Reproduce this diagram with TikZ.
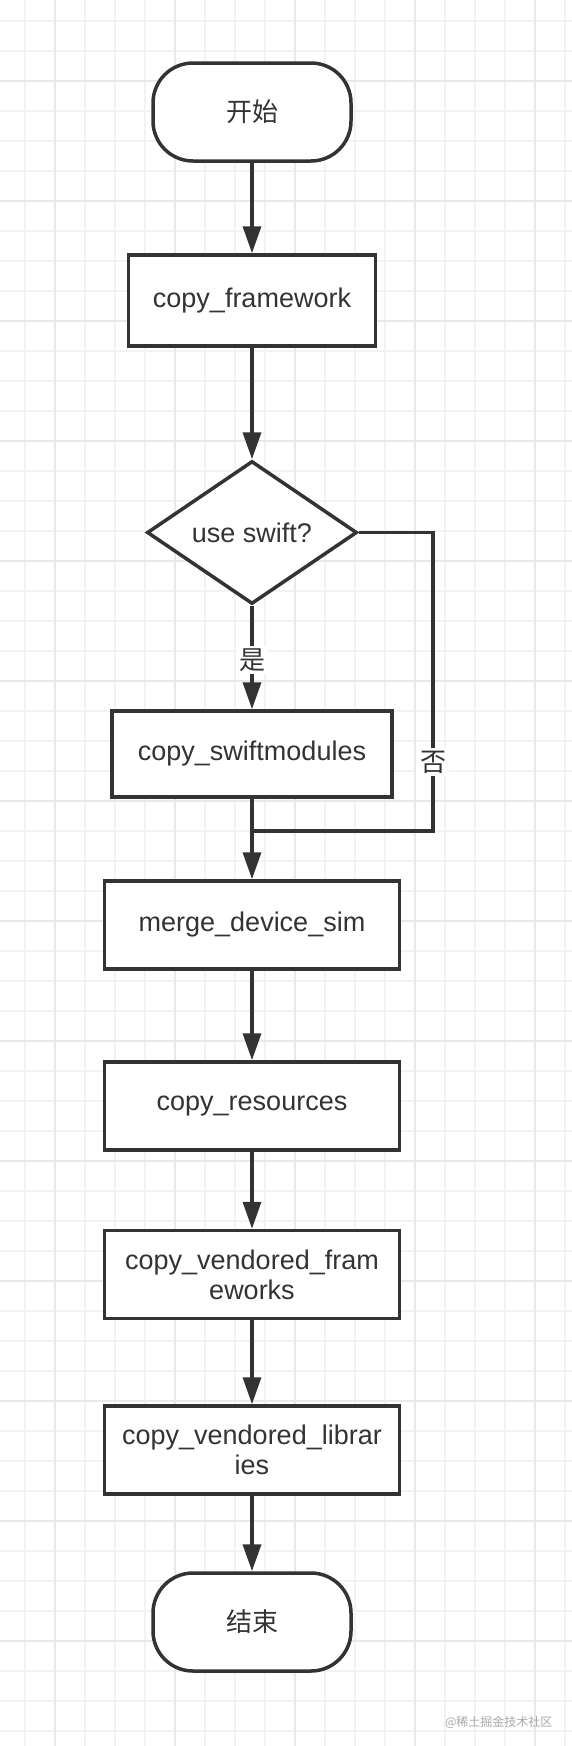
\documentclass[tikz,border=0pt]{standalone}
\usepackage{fontspec}
\setmainfont{Liberation Sans}
\newfontfamily\cjk{Noto Sans CJK SC}
\usepackage{xcolor}
\definecolor{ink}{HTML}{333333}
\definecolor{gridminor}{HTML}{F3F3F3}
\definecolor{gridmajor}{HTML}{E9E9E9}
\definecolor{marktext}{HTML}{A8A8A8}
\usepackage{tikz}
\usetikzlibrary{arrows.meta, shapes.geometric}
\tikzset{
    stepbox/.style = {rectangle, draw=ink, line width=3.5pt, fill=white, text=ink,
                      minimum width=295pt, minimum height=88pt, inner sep=0pt,
                      align=center, font=\fontsize{27}{30}\selectfont},
    terminal/.style = {stepbox, rounded corners=40pt, minimum width=198pt,
                       minimum height=98pt, font=\cjk\fontsize{26}{30}\selectfont},
    decision/.style = {diamond, draw=ink, line width=3.5pt, fill=white, text=ink,
                       minimum width=210pt, minimum height=143pt, aspect=1.47,
                       inner sep=0pt, font=\fontsize{27}{30}\selectfont},
    flow/.style = {-{Triangle[length=27pt, width=18pt]}, line width=3.5pt, draw=ink},
    link/.style = {line width=3.5pt, draw=ink},
    branch/.style = {fill=white, text=ink, inner sep=3pt,
                     font=\cjk\fontsize{26}{30}\selectfont},
}

\begin{document}
\begin{tikzpicture}[x=1pt, y=-1pt]
        \useasboundingbox (0,0) rectangle (572,1746);
        \fill[white] (0,0) rectangle (572,1746);
        % grid
        \foreach \gx in {25,55,...,565} \draw[gridminor, line width=1.2pt] (\gx,0) -- (\gx,1746);
        \foreach \gy in {21,51,...,1731} \draw[gridminor, line width=1.2pt] (0,\gy) -- (572,\gy);
        \foreach \gx in {55,175,...,535} \draw[gridmajor, line width=1.2pt] (\gx,0) -- (\gx,1746);
        \foreach \gy in {81,201,...,1641} \draw[gridmajor, line width=1.2pt] (0,\gy) -- (572,\gy);
        % steps
        \node[terminal] (start) at (252,112) {开始};
        \node[stepbox, minimum width=247pt, minimum height=91pt] (copyfw) at (252,300.5) {copy\_framework};
        \node[decision] (swiftq) at (252,532.5) {use swift?};
        \node[stepbox, minimum width=280pt, minimum height=86pt] (copysm) at (252,754) {copy\_swiftmodules};
        \node[stepbox] (merge) at (252,925) {merge\_device\_sim};
        \node[stepbox] (copyres) at (252,1106) {copy\_resources};
        \node[stepbox] (vendfw) at (252,1274.5) {copy\_vendored\_fram\\eworks};
        \node[stepbox] (vendlib) at (252,1450) {copy\_vendored\_librar\\ies};
        \node[terminal] (finish) at (252,1622) {结束};
        % connectors
        \draw[flow] (start) -- (copyfw);
        \draw[flow] (copyfw) -- (swiftq);
        \draw[flow] (swiftq) -- (copysm);
        \coordinate (join) at (252,831);
        \coordinate (nocorner) at (433,831);
        \draw[link] (swiftq.east) -| (nocorner) -- (join);
        \draw[flow] (copysm) -- (merge);
        \draw[flow] (merge) -- (copyres);
        \draw[flow] (copyres) -- (vendfw);
        \draw[flow] (vendfw) -- (vendlib);
        \draw[flow] (vendlib) -- (finish);
        % branch labels
        \node[branch] (yes) at (252,660) {是};
        \node[branch] (no) at (433,762) {否};
        % watermark
        \node[font=\cjk\fontsize{12}{14}\selectfont, text=marktext, anchor=east] (wmark) at (556,1722) {@稀土掘金技术社区};
\end{tikzpicture}
\end{document}
